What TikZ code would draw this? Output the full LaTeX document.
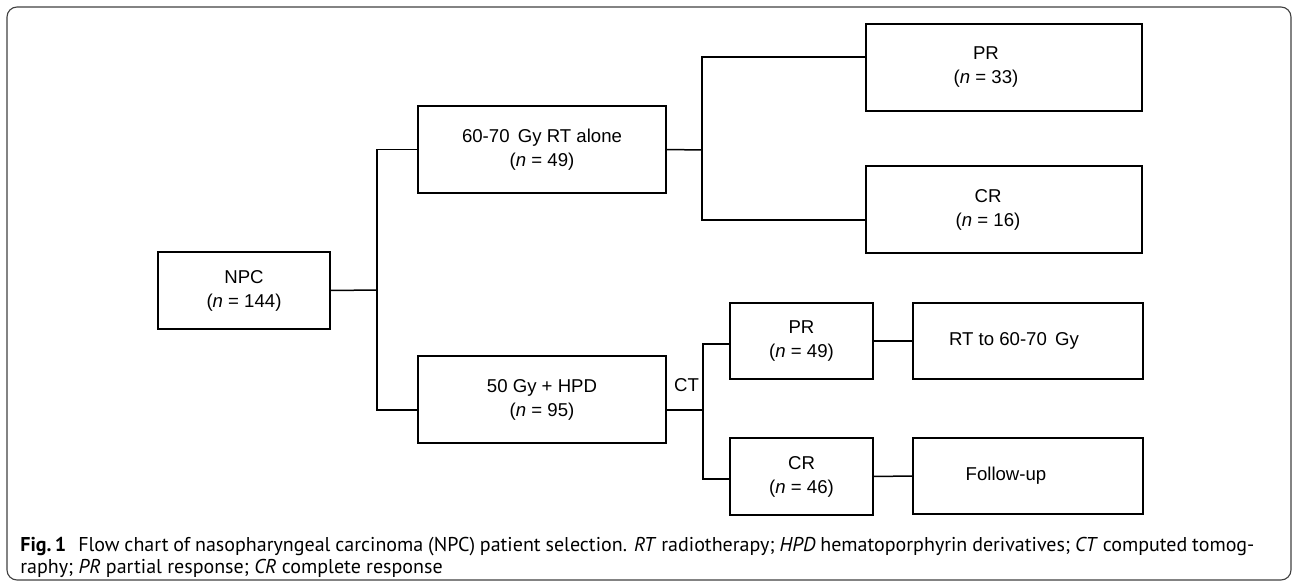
\documentclass[tikz,border=0pt]{standalone}
\usepackage{fontspec}
\setmainfont{Liberation Sans}
\newfontfamily\capfont{PT Sans}
\tikzset{
  box/.style 2 args={draw, line width=0.85pt, minimum width=#1, minimum height=#2,
    inner sep=0pt, align=center},
  conn/.style={line width=0.75pt},
  every label/.append style={align=center, inner sep=0pt}
}
\begin{document}
\begin{tikzpicture}[x=0.5pt, y=-0.5pt, font=\fontsize{9.3}{12}\selectfont]
  \useasboundingbox (0,0) rectangle (1292,583);
  \draw[line width=0.55pt, black!75, rounded corners=5pt] (7,7) rectangle (1291,580);

  \node[box={86pt}{38.5pt}] (npc) at (244,290.5) {NPC\\(\textit{n} = 144)};
  \node[box={124pt}{43.5pt}] (rt) at (542,149.5) {60-70\ \,Gy RT alone\\(\textit{n} = 49)};
  \node[box={124pt}{43.5pt}] (hpd) at (542,399.5) {50 Gy + HPD\\(\textit{n} = 95)};
  \node[box={138pt}{43.5pt}, label={[xshift=-9pt]center:PR\\(\textit{n} = 33)}] (pr1) at (1004,67.5) {};
  \node[box={138pt}{43.5pt}, label={[xshift=-8pt]center:CR\\(\textit{n} = 16)}] (cr1) at (1004,209.5) {};
  \node[box={71.5pt}{38pt}] (pr2) at (801.5,341) {PR\\(\textit{n} = 49)};
  \node[box={71.5pt}{38.5pt}] (cr2) at (801.5,476.5) {CR\\(\textit{n} = 46)};
  \node[box={115pt}{38pt}, label={[xshift=-7pt]center:RT to 60-70\ \,Gy}] (rtgy) at (1028,341) {};
  \node[box={115pt}{38pt}, label={[xshift=-11pt]center:Follow-up}] (fu) at (1028,476) {};
  \node (ct) at (686.5,385.5) {CT};

  \coordinate (j1) at (377,290);
  \coordinate (j2) at (702,150);
  \coordinate (j3) at (703,410);

  \draw[conn] (npc.east) -- (j1);
  \draw[conn] (rt.west) -| (j1) |- ([yshift=-5.25pt]hpd.west);
  \draw[conn] (rt.east) -- (j2);
  \draw[conn] ([yshift=5.25pt]pr1.west) -| (j2) |- ([yshift=-5.25pt]cr1.west);
  \draw[conn] ([yshift=-5.25pt]hpd.east) -- (j3);
  \draw[conn] ([yshift=-1.5pt]pr2.west) -| (j3) |- ([yshift=-1.25pt]cr2.west);
  \draw[conn] (pr2.east) -- (rtgy.west);
  \draw[conn] (cr2.east) -- (fu.west);

  \node[anchor=base west, inner sep=0pt, align=left,
    font=\capfont\fontsize{10}{10.6}\selectfont] (cap) at (20,573)
    {\makebox[617pt][s]{\textbf{Fig.\,1}\hspace{0.6em}Flow chart of nasopharyngeal carcinoma (NPC) patient selection. \textit{RT} radiotherapy; \textit{HPD} hematoporphyrin derivatives; \textit{CT} computed tomog-}\\
     raphy; \textit{PR} partial response; \textit{CR} complete response};
\end{tikzpicture}
\end{document}
